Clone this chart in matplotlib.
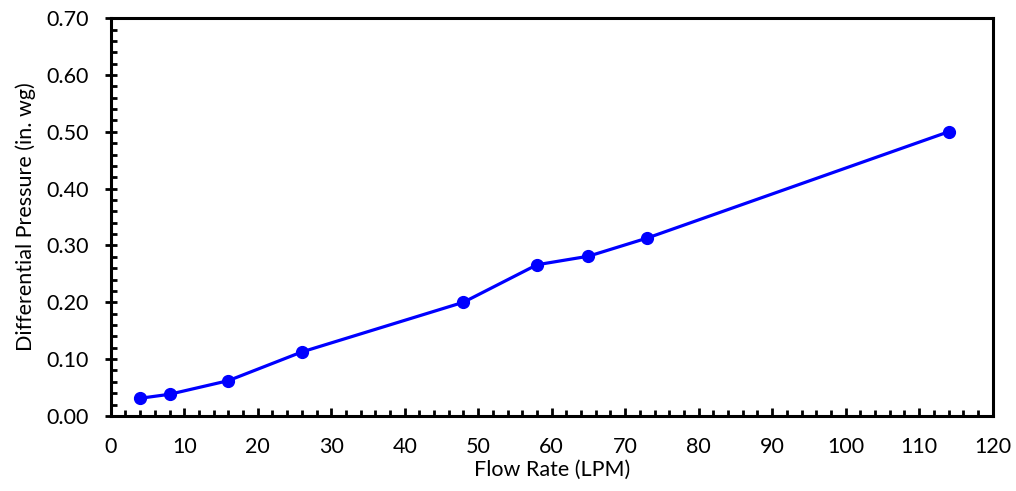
import matplotlib
matplotlib.use("Agg")
import matplotlib.pyplot as plt
from matplotlib.ticker import MultipleLocator, FormatStrFormatter

# flow rate vs differential pressure readings
flow_lpm = [4, 8, 16, 26, 48, 58, 65, 73, 114]
dp_inwg = [0.031, 0.038, 0.062, 0.1125, 0.200, 0.266, 0.281, 0.313, 0.500]

plt.rcParams['font.family'] = ['Lato', 'DejaVu Sans']

fig = plt.figure(figsize=(10.16, 4.91), dpi=100)
ax = fig.add_axes([0.109, 0.153, 0.868, 0.810])

ax.plot(flow_lpm, dp_inwg, color='#0000FF', linewidth=2.3,
        marker='o', markersize=8.5, markerfacecolor='#0000FF', markeredgecolor='#0000FF')

ax.set_xlim(0, 120)
ax.set_ylim(0, 0.70)
ax.xaxis.set_major_locator(MultipleLocator(10))
ax.xaxis.set_minor_locator(MultipleLocator(2))
ax.yaxis.set_major_locator(MultipleLocator(0.10))
ax.yaxis.set_minor_locator(MultipleLocator(0.02))
ax.yaxis.set_major_formatter(FormatStrFormatter('%.2f'))

for s in ax.spines.values():
    s.set_linewidth(2.2)

fs = 15.5
ax.tick_params(axis='x', which='major', direction='in', length=6, width=2, labelsize=fs, pad=15)
ax.tick_params(axis='x', which='minor', direction='in', length=4, width=2)
ax.tick_params(axis='y', which='major', direction='inout', length=9, width=2, labelsize=fs, pad=11)
ax.tick_params(axis='y', which='minor', direction='in', length=4, width=2)

ax.set_xlabel('Flow Rate (LPM)', fontsize=fs, labelpad=2)
ax.set_ylabel('Differential Pressure (in. wg)', fontsize=fs, labelpad=8)

fig.savefig('out.png', dpi=100)
